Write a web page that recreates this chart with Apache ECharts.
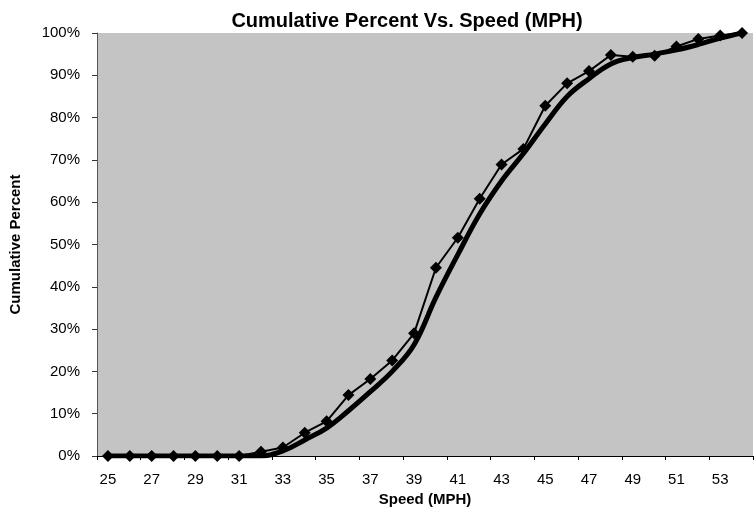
<!DOCTYPE html>
<html>
<head>
<meta charset="utf-8">
<script src="https://cdn.jsdelivr.net/npm/echarts@6/dist/echarts.min.js"></script>
<style>
html,body{margin:0;padding:0;background:#fff;}
#chart{width:755px;height:523px;}
</style>
</head>
<body>
<div id="chart"></div>
<script>
const speeds = ['25','26','27','28','29','30','31','32','33','34','35','36','37','38','39','40','41','42','43','44','45','46','47','48','49','50','51','52','53','54'];
const observedPct = [0,0,0,0,0,0,0,1.0,2.0,5.5,8.2,14.4,18.2,22.6,29.0,44.5,51.6,60.8,68.9,72.6,82.8,88.1,91.0,94.8,94.4,94.6,96.8,98.6,99.4,100];
const fittedPct = [0,0,0,0,0,0,0,0,1.2,3.8,6.6,10.7,15.2,20.0,26.3,37.5,47.6,57.2,65.0,71.5,78.5,85.0,89.2,92.7,94.2,95.0,96.0,97.3,98.8,100];
const titleText = 'Cumulative Percent Vs. Speed (MPH)';
const xName = 'Speed (MPH)';
const yName = 'Cumulative Percent';

const chart = echarts.init(document.getElementById('chart'), null, {renderer:'canvas'});
const font = 'Liberation Sans, Arial, sans-serif';
chart.setOption({
  animation: false,
  backgroundColor: '#ffffff',
  title: {
    text: titleText,
    left: 402, top: 6, textAlign: 'center',
    textStyle: {fontFamily: font, fontSize: 20, fontWeight: 'bold', color: '#000'}
  },
  grid: {left: 97, right: 2, top: 33, bottom: 67, show: true, backgroundColor: '#c4c4c4', borderWidth: 0},
  xAxis: {
    type: 'category',
    data: speeds,
    boundaryGap: true,
    name: xName,
    nameLocation: 'middle',
    nameGap: 36,
    nameTextStyle: {fontFamily: font, fontSize: 15, fontWeight: 'bold', color: '#000'},
    axisLine: {lineStyle: {color: '#000', width: 1}},
    axisTick: {show: true, inside: false, length: 4, alignWithLabel: false, lineStyle: {color: '#000'}},
    axisLabel: {interval: 1, fontFamily: font, fontSize: 15, color: '#000', margin: 16},
    splitLine: {show: false}
  },
  yAxis: {
    type: 'value',
    min: 0, max: 100, interval: 10,
    name: yName,
    nameLocation: 'middle',
    nameGap: 74,
    nameRotate: 90,
    nameTextStyle: {fontFamily: font, fontSize: 15, fontWeight: 'bold', color: '#000'},
    axisLine: {show: true, lineStyle: {color: '#555', width: 1}},
    axisTick: {show: true, length: 5, lineStyle: {color: '#333'}},
    axisLabel: {formatter: '{value}%', fontFamily: font, fontSize: 15, color: '#000', margin: 17},
    splitLine: {show: false}
  },
  series: [
    {
      name: 'Fitted',
      type: 'line',
      data: fittedPct,
      smooth: 0.4,
      showSymbol: false,
      symbol: 'none',
      lineStyle: {color: '#000', width: 5},
      z: 2
    },
    {
      name: 'Observed',
      type: 'line',
      data: observedPct,
      symbol: 'diamond',
      symbolSize: 12,
      itemStyle: {color: '#000'},
      lineStyle: {color: '#000', width: 2},
      z: 3
    }
  ]
});
</script>
</body>
</html>
